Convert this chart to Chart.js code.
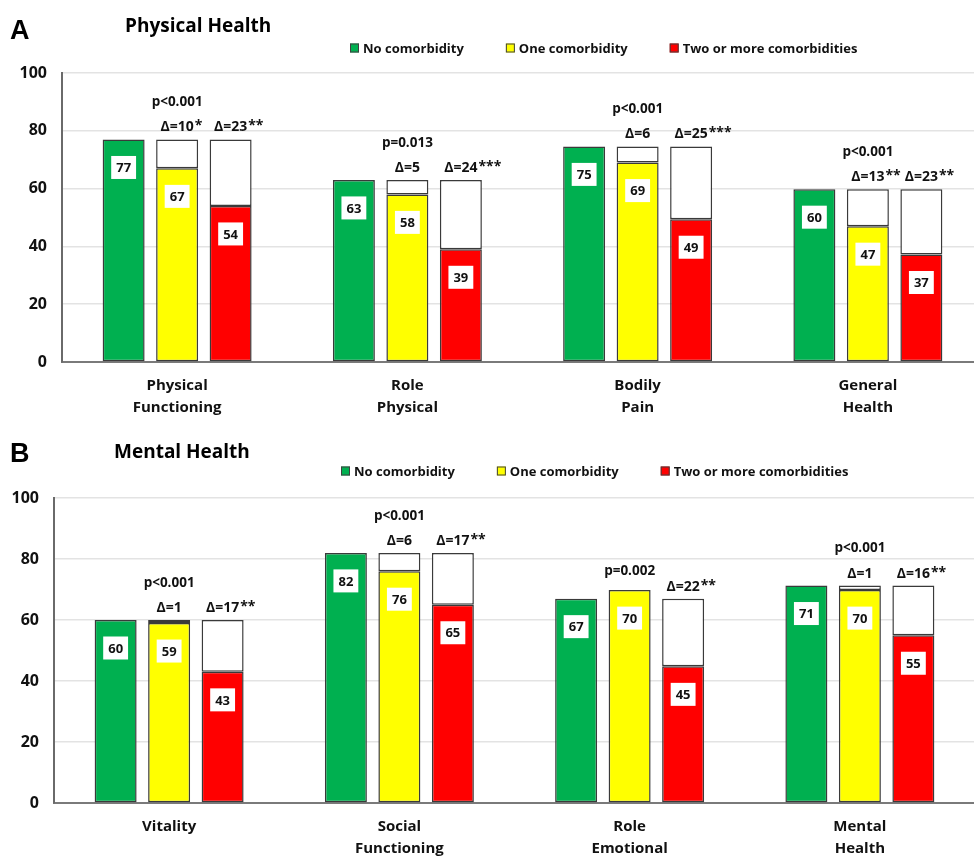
<!DOCTYPE html>
<html>
<head>
<meta charset="utf-8">
<script src="https://cdn.jsdelivr.net/npm/chart.js@4.4.0/dist/chart.umd.min.js"></script>
<style>
html, body { margin: 0; padding: 0; background: #fff; overflow: hidden; width: 974px; height: 858px; }
canvas { display: block; }
</style>
</head>
<body>
<canvas id="chartA" width="990" height="425"></canvas>
<canvas id="chartB" width="990" height="433"></canvas>
<script>
// Panel A - physical health
const physLabels = [['Physical', 'Functioning'], ['Role', 'Physical'], ['Bodily', 'Pain'], ['General', 'Health']];
const physNone = [77, 63, 74.6, 59.8];
const physOne = [67, 58, 69, 47];
const physTwo = [54, 39, 49.4, 37.2];
const physP = ['p<0.001', 'p=0.013', 'p<0.001', 'p<0.001'];
const physDeltaOne = ['Δ=10*', 'Δ=5', 'Δ=6', 'Δ=13**'];
const physDeltaTwo = ['Δ=23**', 'Δ=24***', 'Δ=25***', 'Δ=23**'];

// Panel B - mental health
const mentLabels = [['Vitality'], ['Social', 'Functioning'], ['Role', 'Emotional'], ['Mental', 'Health']];
const mentNone = [60, 82, 67, 71.3];
const mentOne = [59, 76, 69.8, 69.8];
const mentTwo = [43, 65, 44.8, 55];
const mentP = ['p<0.001', 'p<0.001', 'p=0.002', 'p<0.001'];
const mentDeltaOne = ['Δ=1', 'Δ=6', '', 'Δ=1'];
const mentDeltaTwo = ['Δ=17**', 'Δ=17**', 'Δ=22**', 'Δ=16**'];

const seriesNames = ['No comorbidity', 'One comorbidity', 'Two or more comorbidities'];
const seriesColors = ['#00B050', '#FFFF00', '#FF0000'];

const FONT = '"Open Sans", "Noto Sans", sans-serif';

function drawAnnot(ctx, text, x, y) {
  if (!text) return;
  const m = text.match(/^(.*?)(\**)$/);
  ctx.font = 'bold 14px ' + FONT;
  const w1 = ctx.measureText(m[1]).width;
  const x0 = x - w1 / 2;
  ctx.textAlign = 'left';
  ctx.textBaseline = 'middle';
  ctx.fillText(m[1], x0, y);
  if (m[2]) {
    ctx.fillText(m[2], x0 + w1 + 1, y - 1);
  }
}

function makeChart(id, cfg) {
  const whiteOne = cfg.none.map((v, i) => Math.max(0, v - cfg.one[i]));
  const whiteTwo = cfg.none.map((v, i) => Math.max(0, v - cfg.two[i]));

  const overlay = {
    id: 'overlay',
    afterDatasetsDraw(chart) {
      const ctx = chart.ctx;
      const y = chart.scales.y;
      ctx.save();
      // value boxes
      [0, 1, 2].forEach(di => {
        chart.getDatasetMeta(di).data.forEach((bar, i) => {
          const txt = String(Math.round(chart.data.datasets[di].data[i]));
          ctx.font = 'bold 13px ' + FONT;
          const w = ctx.measureText(txt).width + 10;
          const cy = bar.y + 28;
          ctx.fillStyle = '#fff';
          ctx.fillRect(bar.x - w / 2, cy - 11.5, w, 23);
          ctx.fillStyle = '#111';
          ctx.textAlign = 'center';
          ctx.textBaseline = 'middle';
          ctx.fillText(txt, bar.x, cy + 1);
        });
      });
      // p values and deltas
      const m1 = chart.getDatasetMeta(1), m2 = chart.getDatasetMeta(2);
      cfg.none.forEach((v, i) => {
        const top1 = y.getPixelForValue(Math.max(v, cfg.one[i]));
        const top2 = y.getPixelForValue(Math.max(v, cfg.two[i]));
        const x1 = m1.data[i].x, x2 = m2.data[i].x;
        ctx.fillStyle = '#111';
        drawAnnot(ctx, cfg.d1[i], x1, top1 - 12);
        drawAnnot(ctx, cfg.d2[i], x2, top2 - 12);
        ctx.font = 'bold 13.5px ' + FONT;
        ctx.textAlign = 'center';
        ctx.textBaseline = 'middle';
        ctx.fillText(cfg.p[i], x1, cfg.d1[i] ? top1 - 37 : top1 - 19);
      });
      ctx.restore();
    },
    afterDraw(chart) {
      const ctx = chart.ctx;
      ctx.save();
      ctx.fillStyle = '#000';
      ctx.textAlign = 'left';
      ctx.textBaseline = 'alphabetic';
      ctx.font = 'bold 27px "Liberation Sans", Arial, sans-serif';
      ctx.fillText(cfg.letter, 10, cfg.letterY);
      ctx.font = 'bold 19px ' + FONT;
      ctx.fillText(cfg.title, cfg.titleX, cfg.titleY);
      // legend
      let x = cfg.legendX;
      const ly = cfg.legendY;
      ctx.font = 'bold 13px ' + FONT;
      ctx.textBaseline = 'middle';
      seriesNames.forEach((name, i) => {
        ctx.fillStyle = seriesColors[i];
        ctx.fillRect(x, ly - 4.5, 9, 9);
        ctx.strokeStyle = '#404040';
        ctx.lineWidth = 1;
        ctx.strokeRect(x + 0.5, ly - 4, 8, 8);
        ctx.fillStyle = '#111';
        ctx.fillText(name, x + 13, ly + 1);
        x += 13 + ctx.measureText(name).width + 42;
      });
      ctx.restore();
    }
  };

  const tickFont = { family: FONT, size: 15, weight: 'bold', lineHeight: 1.45 };

  return new Chart(document.getElementById(id), {
    type: 'bar',
    data: {
      labels: cfg.labels,
      datasets: [
        { label: seriesNames[0], data: cfg.none, backgroundColor: seriesColors[0], stack: 's0' },
        { label: seriesNames[1], data: cfg.one, backgroundColor: seriesColors[1], stack: 's1' },
        { label: seriesNames[2], data: cfg.two, backgroundColor: seriesColors[2], stack: 's2' },
        { label: 'gap1', data: whiteOne, backgroundColor: '#ffffff', stack: 's1' },
        { label: 'gap2', data: whiteTwo, backgroundColor: '#ffffff', stack: 's2' }
      ]
    },
    options: {
      responsive: false,
      animation: false,
      layout: { padding: { top: 73, right: cfg.padRight, left: 0, bottom: 0 } },
      plugins: { legend: { display: false }, tooltip: { enabled: false } },
      datasets: {
        bar: {
          categoryPercentage: 0.697,
          barPercentage: 0.785,
          borderColor: '#3a3a3a',
          borderWidth: 1.5,
          borderSkipped: false
        }
      },
      scales: {
        x: {
          stacked: true,
          grid: { display: false, drawTicks: false },
          border: { color: '#7a7a7a', width: 2 },
          ticks: { font: tickFont, color: '#111', padding: 13, maxRotation: 0, autoSkip: false },
          afterFit: s => { s.height = cfg.xHeight; }
        },
        y: {
          stacked: true,
          min: 0,
          max: 100,
          ticks: { stepSize: 20, padding: 15, font: { family: FONT, size: 16, weight: 'bold' }, color: '#111' },
          grid: { color: '#e3e3e3', lineWidth: 1.5, drawTicks: false },
          border: { color: '#6a6a6a', width: 2 },
          afterFit: s => { s.width = cfg.yWidth; }
        }
      }
    },
    plugins: [overlay]
  });
}

makeChart('chartA', {
  labels: physLabels, none: physNone, one: physOne, two: physTwo,
  p: physP, d1: physDeltaOne, d2: physDeltaTwo,
  letter: 'A', letterY: 39, title: 'Physical Health', titleX: 125, titleY: 32,
  legendX: 350, legendY: 48, padRight: 7, yWidth: 62, xHeight: 63
});

makeChart('chartB', {
  labels: mentLabels, none: mentNone, one: mentOne, two: mentTwo,
  p: mentP, d1: mentDeltaOne, d2: mentDeltaTwo,
  letter: 'B', letterY: 37, title: 'Mental Health', titleX: 114, titleY: 33,
  legendX: 341, legendY: 46, padRight: 15, yWidth: 54, xHeight: 55
});
</script>
</body>
</html>
